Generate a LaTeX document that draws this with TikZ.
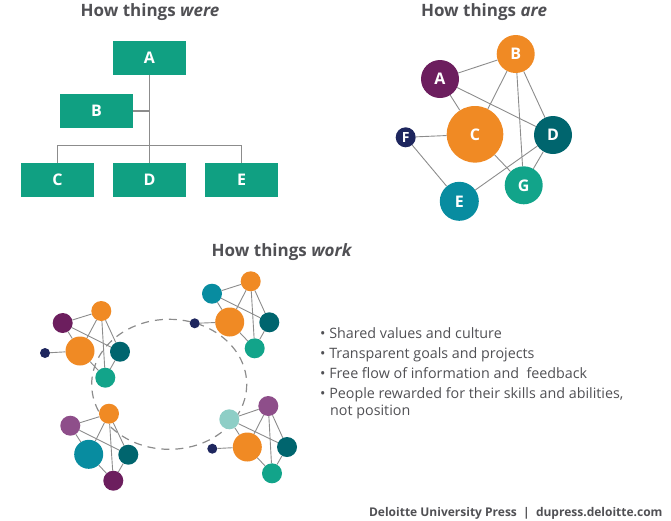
\documentclass[tikz,border=0pt]{standalone}
\usepackage{fontspec}
\setmainfont{Open Sans}

\definecolor{boxgreen}{RGB}{16,160,130}
\definecolor{dorange}{RGB}{240,138,36}
\definecolor{dpurple}{RGB}{108,30,94}
\definecolor{dnavy}{RGB}{30,38,94}
\definecolor{darkteal}{RGB}{0,101,110}
\definecolor{tealgreen}{RGB}{18,164,138}
\definecolor{tealblue}{RGB}{8,140,160}
\definecolor{mauve}{RGB}{142,78,138}
\definecolor{paleteal}{RGB}{142,206,198}
\definecolor{linegrey}{RGB}{140,140,140}
\definecolor{textgrey}{RGB}{80,80,84}

\begin{document}
\begin{tikzpicture}[x=1pt,y=-1pt,
  title/.style={anchor=base,inner sep=0pt,text=textgrey,font=\fontsize{17}{20}\selectfont\bfseries},
  box node/.style={rectangle,fill=boxgreen,text=white,minimum width=73pt,minimum height=34pt,inner sep=0pt,font=\fontsize{16}{18}\selectfont\bfseries},
  main node/.style={circle,inner sep=0pt,text=white,font=\fontsize{16}{18}\selectfont\bfseries},
  small node/.style={circle,inner sep=0pt,minimum size=20pt},
  big node/.style={circle,inner sep=0pt,minimum size=29pt},
  tiny node/.style={circle,inner sep=0pt,minimum size=10pt,fill=dnavy},
  link/.style={draw=linegrey,line width=0.9pt},
  bullet/.style={anchor=base west,inner sep=0pt,align=left,text=textgrey,font=\fontsize{14.3}{16.7}\selectfont}]
  \useasboundingbox (0,0) rectangle (671,520);

  % titles
  \node[title] (t1) at (150,16) {How things \textit{were}};
  \node[title] (t2) at (484,16) {How things \textit{are}};
  \node[title] (t3) at (282,256.7) {How things \textit{work}};

  % how things were
  \node[box node] (wA) at (149.5,58) {A};
  \node[box node] (wB) at (96.5,111) {B};
  \node[box node] (wC) at (57.5,180) {C};
  \node[box node] (wD) at (149.5,180) {D};
  \node[box node] (wE) at (241.5,180) {E};
  \coordinate (bus) at (149.5,145.7);
  \draw[link,line width=1.2pt]
    (wA.south) -- (wD.north)
    (wB.east) -- (wB.east -| wA.south)
    (wC.north) |- (bus) -| (wE.north);

  % how things are
  \node[main node,fill=dpurple,minimum size=38pt] (aA) at (440,79) {A};
  \node[main node,fill=dorange,minimum size=38pt] (aB) at (515.7,54) {B};
  \node[main node,fill=dorange,minimum size=56.6pt] (aC) at (475,134.3) {C};
  \node[main node,fill=darkteal,minimum size=38pt] (aD) at (553,135) {D};
  \node[main node,fill=tealblue,minimum size=39pt] (aE) at (459.3,201.3) {E};
  \node[main node,fill=dnavy,minimum size=20pt,font=\fontsize{14}{16}\selectfont\bfseries] (aF) at (405.7,137.3) {F};
  \node[main node,fill=tealgreen,minimum size=38pt] (aG) at (523.7,185.3) {G};

  \path[link]
    (aA) edge (aB)
    (aA) edge (aC)
    (aA) edge (aD)
    (aB) edge (aC)
    (aB) edge (aG)
    (aB) edge (aD)
    (aF) edge (aC)
    (aF) edge (aE)
    (aC) edge (aG)
    (aE) edge (aD)
    (aD) edge (aG)
    ;

  % how things work
  \draw[draw=linegrey,line width=1.2pt,dash pattern=on 8pt off 6pt] (169.2,384.3) ellipse [x radius=77.5,y radius=65];

  \node[small node,fill=dorange] (k1b) at (101.3,311) {};
  \node[small node,fill=dpurple] (k1a) at (62.7,323) {};
  \node[big node,fill=dorange] (k1c) at (80,351) {};
  \node[tiny node] (k1f) at (45,353) {};
  \node[small node,fill=darkteal] (k1d) at (120,351.7) {};
  \node[small node,fill=tealgreen] (k1g) at (105.3,377.7) {};

  \node[small node,fill=dorange] (k2b) at (250.7,281.3) {};
  \node[small node,fill=tealblue] (k2a) at (212,293.7) {};
  \node[big node,fill=dorange] (k2c) at (229.7,322) {};
  \node[tiny node] (k2f) at (194.7,323.3) {};
  \node[small node,fill=darkteal] (k2d) at (269.3,322.3) {};
  \node[small node,fill=tealgreen] (k2g) at (254.7,348.3) {};

  \node[small node,fill=dorange] (k3b) at (109,413.7) {};
  \node[small node,fill=mauve] (k3a) at (70.3,425.7) {};
  \node[big node,fill=tealblue] (k3c) at (88.7,454.3) {};
  \node[small node,fill=darkteal] (k3d) at (128.3,454.7) {};
  \node[small node,fill=dpurple] (k3g) at (113.3,480.7) {};

  \node[small node,fill=mauve] (k4b) at (268.3,406) {};
  \node[small node,fill=paleteal] (k4a) at (229.3,419.3) {};
  \node[big node,fill=dorange] (k4c) at (247.3,447) {};
  \node[tiny node] (k4f) at (212.3,448.7) {};
  \node[small node,fill=darkteal] (k4d) at (287,447) {};
  \node[small node,fill=tealgreen] (k4g) at (272,473.3) {};

  \path[link]
    (k1a) edge (k1b) (k1a) edge (k1c) (k1a) edge (k1d)
    (k1b) edge (k1c) (k1b) edge (k1g) (k1b) edge (k1d)
    (k1f) edge (k1c) (k1c) edge (k1g) (k1d) edge (k1g)
    (k2a) edge (k2b) (k2a) edge (k2c) (k2a) edge (k2d)
    (k2b) edge (k2c) (k2b) edge (k2g) (k2b) edge (k2d)
    (k2f) edge (k2c) (k2c) edge (k2g) (k2d) edge (k2g)
    (k3a) edge (k3b) (k3a) edge (k3c) (k3a) edge (k3d)
    (k3b) edge (k3c) (k3b) edge (k3g) (k3b) edge (k3d)
    (k3c) edge (k3g) (k3d) edge (k3g)
    (k4a) edge (k4b) (k4a) edge (k4c) (k4a) edge (k4d)
    (k4b) edge (k4c) (k4b) edge (k4g) (k4b) edge (k4d)
    (k4f) edge (k4c) (k4c) edge (k4g) (k4d) edge (k4g)
    ;

  % bullets
  \node[bullet] (b1) at (320,338) {• Shared values and culture};
  \node[bullet] (b2) at (320,358.3) {• Transparent goals and projects};
  \node[bullet] (b3) at (320,378.3) {• Free flow of information and\ \ feedback};
  \node[bullet] (b4) at (320,415) {• People rewarded for their skills and abilities,\\\hspace*{0.7em}not position};

  \node[anchor=base east,inner sep=0pt,text=textgrey,font=\fontsize{12}{14}\selectfont\bfseries] (credit) at (662.7,516.7) {Deloitte University Press~~|~~dupress.deloitte.com};
\end{tikzpicture}
\end{document}
